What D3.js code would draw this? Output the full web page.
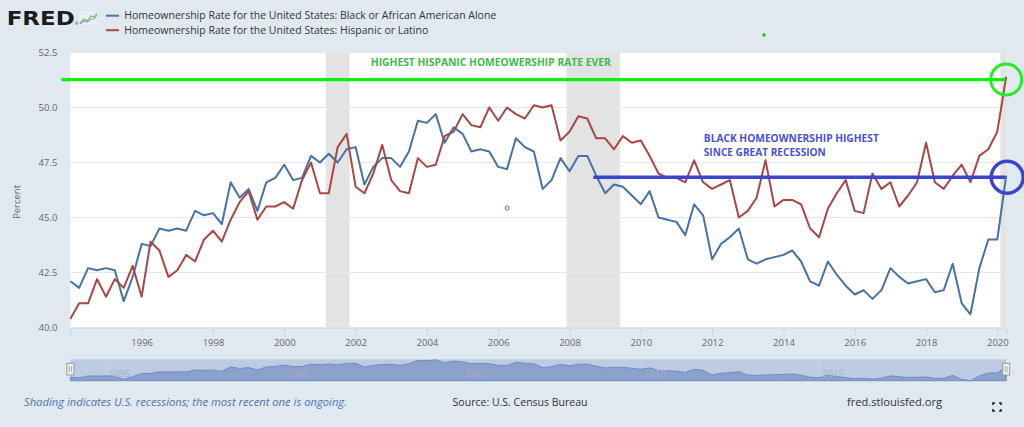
<!DOCTYPE html>
<html>
<head>
<meta charset="utf-8">
<script src="https://cdn.jsdelivr.net/npm/d3@7"></script>
<style>
  html, body { margin: 0; padding: 0; background: #e1e9f0; }
  svg { display: block; font-family: "Open Sans", sans-serif; }
</style>
</head>
<body>
<svg id="chart" width="1024" height="427"></svg>
<script>
// Quarterly homeownership rates, 1994 Q1 - 2020 Q2 (percent)
const black = [
  42.1, 41.8, 42.7, 42.6, 42.7, 42.6, 41.2, 42.3, 43.8, 43.7, 44.5, 44.4,
  44.5, 44.4, 45.3, 45.1, 45.2, 44.7, 46.6, 45.9, 46.3, 45.3, 46.6, 46.8,
  47.4, 46.7, 46.8, 47.8, 47.5, 47.9, 47.5, 48.1, 48.2, 46.5, 47.3, 47.7,
  47.7, 47.3, 48.0, 49.4, 49.3, 49.7, 48.4, 49.1, 48.8, 48.0, 48.1, 48.0,
  47.3, 47.2, 48.6, 48.2, 48.0, 46.3, 46.7, 47.7, 47.1, 47.8, 47.8, 46.9,
  46.1, 46.5, 46.4, 46.0, 45.6, 46.2, 45.0, 44.9, 44.8, 44.2, 45.6, 45.1,
  43.1, 43.8, 44.1, 44.5, 43.1, 42.9, 43.1, 43.2, 43.3, 43.5, 43.0, 42.1,
  41.9, 43.0, 42.4, 41.9, 41.5, 41.7, 41.3, 41.7, 42.7, 42.3, 42.0, 42.1,
  42.2, 41.6, 41.7, 42.9, 41.1, 40.6, 42.7, 44.0, 44.0, 46.9
];
const hispanic = [
  40.4, 41.1, 41.1, 42.2, 41.4, 42.2, 41.8, 42.8, 41.4, 43.9, 43.5, 42.3,
  42.6, 43.3, 43.0, 44.0, 44.4, 43.9, 44.9, 45.7, 46.2, 44.9, 45.5, 45.5,
  45.7, 45.4, 46.7, 47.5, 46.1, 46.1, 48.2, 48.8, 46.4, 46.1, 47.0, 48.3,
  46.7, 46.2, 46.1, 47.7, 47.3, 47.4, 48.7, 48.9, 49.7, 49.2, 49.1, 50.0,
  49.4, 50.0, 49.7, 49.5, 50.1, 50.0, 50.1, 48.5, 48.9, 49.6, 49.5, 48.6,
  48.6, 48.1, 48.7, 48.4, 48.5, 47.8, 47.0, 46.8, 46.8, 46.6, 47.6, 46.6,
  46.3, 46.5, 46.7, 45.0, 45.3, 45.9, 47.6, 45.5, 45.8, 45.8, 45.6, 44.5,
  44.1, 45.4, 46.1, 46.7, 45.3, 45.2, 47.0, 46.3, 46.6, 45.5, 46.0, 46.6,
  48.4, 46.6, 46.3, 46.9, 47.4, 46.6, 47.8, 48.1, 48.9, 51.4
];
const quarters = d3.timeMonth.every(3).range(new Date(1994, 0, 1), new Date(2020, 4, 1));

const recessions = [
  ['2001-03-01', '2001-11-01'],
  ['2007-12-01', '2009-06-01'],
  ['2020-02-01', '2020-04-01']
];
const yTicks = [40, 42.5, 45, 47.5, 50, 52.5];
const navYears = [1995, 2000, 2005, 2010, 2015];

const seriesNames = [
  'Homeownership Rate for the United States: Black or African American Alone',
  'Homeownership Rate for the United States: Hispanic or Latino'
];

// annotation anchors (date, value)
const hispanicPeak = { level: 51.27, from: '1993-10-01', label: 'HIGHEST HISPANIC HOMEOWERSHIP RATE EVER', labelAt: ['2002-06-05', 51.87] };
const blackHigh = { level: 46.83, from: '2008-09-01', label: ['BLACK HOMEOWNERSHIP HIGHEST', 'SINCE GREAT RECESSION'], labelAt: ['2011-10-08', 48.45, 47.80] };

const parse = d3.timeParse('%Y-%m-%d');
const svg = d3.select('#chart');

const plotLeft = 70.4, plotRight = 1006.2, plotTop = 52.5, plotBottom = 327.5;
const x = d3.scaleTime().domain([quarters[0], quarters[quarters.length - 1]]).range([plotLeft, plotRight]);
const y = d3.scaleLinear().domain([40, 52.5]).range([plotBottom, plotTop]);

// plot background
svg.append('rect')
  .attr('x', plotLeft).attr('y', plotTop)
  .attr('width', plotRight - plotLeft).attr('height', plotBottom - plotTop)
  .attr('fill', '#ffffff');

// recession shading
svg.append('g')
  .selectAll('rect')
  .data(recessions)
  .join('rect')
  .attr('x', d => x(parse(d[0])))
  .attr('y', plotTop)
  .attr('width', d => x(parse(d[1])) - x(parse(d[0])))
  .attr('height', plotBottom - plotTop)
  .attr('fill', '#e3e3e3');

// horizontal grid lines
svg.append('g')
  .selectAll('line')
  .data(yTicks.slice(1))
  .join('line')
  .attr('x1', plotLeft).attr('x2', plotRight)
  .attr('y1', d => y(d)).attr('y2', d => y(d))
  .attr('stroke', '#e6e6e6')
  .attr('stroke-width', 1);

// y axis labels
const yAxis = svg.append('g')
  .attr('transform', `translate(${plotLeft - 6},0)`)
  .call(d3.axisLeft(y).tickValues(yTicks).tickFormat(d3.format('.1f')).tickSize(0).tickPadding(7));
yAxis.select('.domain').remove();
yAxis.selectAll('text')
  .attr('fill', '#666')
  .attr('font-size', '9.5px')
  .attr('font-family', '"Open Sans", sans-serif');

svg.append('text')
  .attr('transform', `translate(20,${(plotTop + plotBottom) / 2 + 12}) rotate(-90)`)
  .attr('text-anchor', 'middle')
  .attr('fill', '#666')
  .attr('font-size', '9.5px')
  .text('Percent');

// x axis
const yearTicks = d3.timeYear.every(2).range(new Date(1996, 0, 1), new Date(2021, 0, 1));
const xAxis = svg.append('g')
  .attr('transform', `translate(0,${plotBottom})`)
  .call(d3.axisBottom(x).tickValues(yearTicks).tickFormat(d3.timeFormat('%Y')).tickSize(9).tickPadding(3));
xAxis.select('.domain').attr('stroke', '#ccd6eb');
xAxis.selectAll('.tick line').attr('stroke', '#ccd6eb');
xAxis.selectAll('text')
  .attr('fill', '#666')
  .attr('font-size', '9.5px')
  .attr('font-family', '"Open Sans", sans-serif');

// series lines
const line = values => d3.line()
  .x((d, i) => x(quarters[i]))
  .y(d => y(d))(values);

svg.append('path')
  .attr('d', line(black))
  .attr('fill', 'none')
  .attr('stroke', '#4572a7')
  .attr('stroke-width', 2)
  .attr('stroke-linejoin', 'round');

svg.append('path')
  .attr('d', line(hispanic))
  .attr('fill', 'none')
  .attr('stroke', '#aa4643')
  .attr('stroke-width', 2)
  .attr('stroke-linejoin', 'round');

// annotations
const last = quarters[quarters.length - 1];
svg.append('line')
  .attr('x1', x(parse(hispanicPeak.from))).attr('x2', x(last) - 1)
  .attr('y1', y(hispanicPeak.level)).attr('y2', y(hispanicPeak.level))
  .attr('stroke', '#11ee11')
  .attr('stroke-width', 3.3);
svg.append('circle')
  .attr('cx', x(last)).attr('cy', y(hispanicPeak.level))
  .attr('r', 15.5)
  .attr('fill', 'none')
  .attr('stroke', '#22ee22')
  .attr('stroke-width', 3);
svg.append('text')
  .attr('x', x(parse(hispanicPeak.labelAt[0])))
  .attr('y', y(hispanicPeak.labelAt[1]))
  .attr('fill', '#3bbb4a')
  .attr('font-size', '10px')
  .attr('font-weight', 'bold')
  .attr('textLength', 240)
  .attr('lengthAdjust', 'spacingAndGlyphs')
  .text(hispanicPeak.label);

svg.append('line')
  .attr('x1', x(parse(blackHigh.from))).attr('x2', x(last) - 1)
  .attr('y1', y(blackHigh.level)).attr('y2', y(blackHigh.level))
  .attr('stroke', '#3b44cc')
  .attr('stroke-width', 3.5);
svg.append('circle')
  .attr('cx', x(last) + 1).attr('cy', y(blackHigh.level))
  .attr('r', 16)
  .attr('fill', 'none')
  .attr('stroke', '#3b44cc')
  .attr('stroke-width', 3.5);
svg.append('g')
  .selectAll('text')
  .data(blackHigh.label)
  .join('text')
  .attr('x', x(parse(blackHigh.labelAt[0])))
  .attr('y', (d, i) => y(blackHigh.labelAt[i + 1]))
  .attr('fill', '#4b4fd8')
  .attr('font-size', '10.5px')
  .attr('font-weight', 'bold')
  .attr('textLength', (d, i) => i === 0 ? 175 : 122)
  .attr('lengthAdjust', 'spacingAndGlyphs')
  .text(d => d);

// stray markers in the picture
svg.append('circle')
  .attr('cx', x(parse('2006-04-03'))).attr('cy', y(45.43))
  .attr('r', 2)
  .attr('fill', '#fff')
  .attr('stroke', '#5a5af0')
  .attr('stroke-width', 1);
svg.append('circle')
  .attr('cx', x(parse('2013-06-16'))).attr('cy', y(53.3))
  .attr('r', 1.8)
  .attr('fill', '#33bb44');

// legend
svg.append('text')
  .attr('x', 6.7).attr('y', 25)
  .attr('font-family', '"DejaVu Sans", sans-serif')
  .attr('font-size', '20px')
  .attr('font-weight', 'bold')
  .attr('fill', '#1c1c1c')
  .attr('textLength', 68)
  .attr('lengthAdjust', 'spacingAndGlyphs')
  .text('FRED');
svg.append('text')
  .attr('x', 75).attr('y', 25)
  .attr('font-size', '4px')
  .attr('fill', '#1c1c1c')
  .text('®');
const icon = svg.append('g').attr('transform', 'translate(79,11)');
icon.append('rect').attr('width', 19).attr('height', 14).attr('fill', '#e9eef4');
icon.append('path').attr('d', 'M1,12 L5,8 L8,10 L12,5 L15,6 L18,2')
  .attr('fill', 'none').attr('stroke', '#7fbf5a').attr('stroke-width', 1.2);
icon.append('path').attr('d', 'M1,13 L5,10 L8,11 L12,8 L15,8 L18,4')
  .attr('fill', 'none').attr('stroke', '#86a9d6').attr('stroke-width', 1.2);

const legend = svg.append('g')
  .selectAll('g')
  .data(seriesNames)
  .join('g')
  .attr('transform', (d, i) => `translate(106,${15.7 + i * 14.5})`);
legend.append('line')
  .attr('x1', 0).attr('x2', 13)
  .attr('stroke', (d, i) => i === 0 ? '#4572a7' : '#aa4643')
  .attr('stroke-width', 2);
legend.append('text')
  .attr('x', 18.3).attr('y', 3.6)
  .attr('fill', '#333')
  .attr('font-size', '10.5px')
  .attr('textLength', (d, i) => i === 0 ? 372 : 304)
  .attr('lengthAdjust', 'spacingAndGlyphs')
  .text(d => d);

// navigator
const navTop = 359.3, navBottom = 380.7;
const navY = d3.scaleLinear().domain(d3.extent(black)).range([navBottom, navTop + 0.5]);
svg.append('rect')
  .attr('x', plotLeft).attr('y', navTop)
  .attr('width', plotRight - plotLeft).attr('height', navBottom - navTop)
  .attr('fill', '#bdcbe3');
svg.append('g')
  .selectAll('line')
  .data(navYears)
  .join('line')
  .attr('x1', d => x(new Date(d, 0, 1))).attr('x2', d => x(new Date(d, 0, 1)))
  .attr('y1', navTop).attr('y2', navBottom)
  .attr('stroke', '#c9d4e6')
  .attr('stroke-width', 1);
svg.append('path')
  .attr('d', d3.area()
    .x((d, i) => x(quarters[i]))
    .y0(navBottom)
    .y1(d => navY(d))(black))
  .attr('fill', '#8ba1cb')
  .attr('stroke', '#6d8dc7')
  .attr('stroke-width', 1);
svg.append('g')
  .selectAll('text')
  .data(navYears)
  .join('text')
  .attr('x', d => x(new Date(d, 0, 1)) + 3)
  .attr('y', 376.5)
  .attr('fill', '#a5b0c4')
  .attr('font-size', '9.5px')
  .text(d => d);
const handles = svg.append('g')
  .selectAll('g')
  .data([plotLeft, plotRight])
  .join('g')
  .attr('transform', d => `translate(${d},363.3)`);
handles.append('rect')
  .attr('x', -3.5).attr('width', 7).attr('height', 11.7)
  .attr('fill', '#f2f2f2')
  .attr('stroke', '#999')
  .attr('stroke-width', 1);
handles.append('path')
  .attr('d', 'M-1,3 V9 M1,3 V9')
  .attr('stroke', '#999')
  .attr('stroke-width', 0.8);

// footer
svg.append('text')
  .attr('x', 24).attr('y', 405.5)
  .attr('fill', '#4f73ad')
  .attr('font-size', '10px')
  .attr('font-style', 'italic')
  .attr('textLength', 323)
  .attr('lengthAdjust', 'spacingAndGlyphs')
  .text('Shading indicates U.S. recessions; the most recent one is ongoing.');
svg.append('text')
  .attr('x', 452.6).attr('y', 405.5)
  .attr('fill', '#333')
  .attr('font-size', '10px')
  .attr('textLength', 135)
  .attr('lengthAdjust', 'spacingAndGlyphs')
  .text('Source: U.S. Census Bureau');
svg.append('text')
  .attr('x', 847).attr('y', 405.5)
  .attr('fill', '#333')
  .attr('font-size', '10px')
  .attr('textLength', 95)
  .attr('lengthAdjust', 'spacingAndGlyphs')
  .text('fred.stlouisfed.org');

// fullscreen icon
svg.append('path')
  .attr('transform', 'translate(997,407)')
  .attr('d', 'M-4,-2 V-4 H-2 M2,-4 H4 V-2 M4,2 V4 H2 M-2,4 H-4 V2')
  .attr('fill', 'none')
  .attr('stroke', '#222')
  .attr('stroke-width', 1.6);
</script>
</body>
</html>
